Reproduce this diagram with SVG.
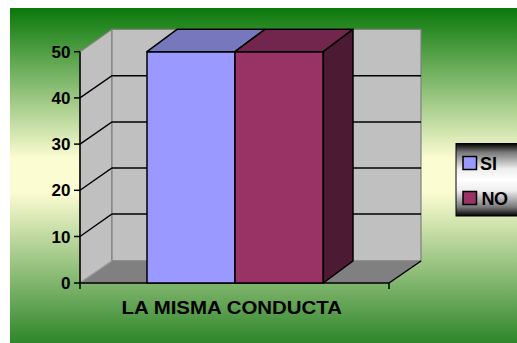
<svg xmlns="http://www.w3.org/2000/svg" width="517" height="343" viewBox="0 0 517 343">
<defs>
<linearGradient id="bg" x1="0" y1="0" x2="0" y2="1">
<stop offset="0" stop-color="#0a780a"/>
<stop offset="0.45" stop-color="#fcfcd2"/>
<stop offset="0.55" stop-color="#fcfcd2"/>
<stop offset="1" stop-color="#2e862a"/>
</linearGradient>
<linearGradient id="lg" x1="0" y1="0" x2="0" y2="1">
<stop offset="0" stop-color="#000"/>
<stop offset="0.12" stop-color="#777"/>
<stop offset="0.35" stop-color="#eee"/>
<stop offset="0.5" stop-color="#fff"/>
<stop offset="0.65" stop-color="#eee"/>
<stop offset="0.88" stop-color="#777"/>
<stop offset="1" stop-color="#000"/>
</linearGradient>
<style>
.wall{fill:#c0c0c0;stroke:#808080;stroke-width:1.2}
.floor{fill:#808080;stroke:#808080;stroke-width:1}
.grid{stroke:#000;stroke-width:1.4;fill:none}
.ax{stroke:#000;stroke-width:1.5;fill:none}
.bar{stroke:#000;stroke-width:1.5;stroke-linejoin:round}
.lbl{font-family:"Liberation Sans",Arial,sans-serif;font-weight:bold;fill:#000}
.yl{font-size:17px;text-anchor:end}
</style>
</defs>
<rect x="10" y="8" width="507" height="335" fill="url(#bg)"/>
<g id="walls">
<polygon class="wall" points="80,283 112,261 112,29.3 80,51.7"/>
<polygon class="wall" points="112,29.3 421,29.3 421,261 112,261"/>
<polygon class="floor" points="80,283 112,261 421,261 389,283"/>
<polyline points="80,283 112,261" stroke="#a0a0a0" stroke-width="1" fill="none"/>
</g>
<g id="gridlines">
<polyline class="grid" points="80,97.9 112,75.7 421,75.7"/>
<polyline class="grid" points="80,144.1 112,122 421,122"/>
<polyline class="grid" points="80,190.3 112,168 421,168"/>
<polyline class="grid" points="80,236.5 112,214 421,214"/>
</g>
<g id="axes">
<line class="ax" x1="80" y1="51.7" x2="80" y2="289"/>
<line class="ax" x1="80" y1="283" x2="389" y2="283"/>
<line class="ax" x1="389" y1="283" x2="421" y2="261"/>
<line class="ax" x1="389" y1="283" x2="389" y2="289"/>
<line class="ax" x1="74" y1="51.7" x2="80" y2="51.7"/>
<line class="ax" x1="74" y1="97.9" x2="80" y2="97.9"/>
<line class="ax" x1="74" y1="144.1" x2="80" y2="144.1"/>
<line class="ax" x1="74" y1="190.3" x2="80" y2="190.3"/>
<line class="ax" x1="74" y1="236.5" x2="80" y2="236.5"/>
<line class="ax" x1="74" y1="283" x2="80" y2="283"/>
</g>
<g id="ylabels" class="lbl yl">
<text x="70.5" y="57.8">50</text>
<text x="70.5" y="104">40</text>
<text x="70.5" y="150.2">30</text>
<text x="70.5" y="196.4">20</text>
<text x="70.5" y="242.6">10</text>
<text x="70.5" y="289">0</text>
</g>
<g id="bar-si">
<polygon class="bar" fill="#9999ff" points="147,51.7 235,51.7 235,283 147,283"/>
<polygon class="bar" fill="#7777bd" points="147,51.7 177,29.3 265,29.3 235,51.7"/>
</g>
<g id="bar-no">
<polygon class="bar" fill="#993366" points="235,51.7 323.3,51.7 323.3,283 235,283"/>
<polygon class="bar" fill="#73264d" points="235,51.7 265,29.3 353,29.3 323.3,51.7"/>
<polygon class="bar" fill="#4d1a33" points="323.3,51.7 353,29.3 353,261 323.3,283"/>
</g>
<text id="xlabel" class="lbl" x="121.5" y="314" font-size="18" textLength="220.5" lengthAdjust="spacingAndGlyphs">LA MISMA CONDUCTA</text>
<g id="legend">
<rect x="456" y="143.5" width="64" height="72.5" fill="url(#lg)" stroke="#000" stroke-width="1"/>
<rect x="463" y="156.5" width="13.5" height="13" fill="#9999ff" stroke="#000" stroke-width="1.5"/>
<text class="lbl" x="480" y="169.5" font-size="18">SI</text>
<rect x="463" y="191.5" width="13.5" height="13" fill="#993366" stroke="#000" stroke-width="1.5"/>
<text class="lbl" x="481.5" y="204.5" font-size="18" letter-spacing="-0.5">NO</text>
</g>
</svg>
